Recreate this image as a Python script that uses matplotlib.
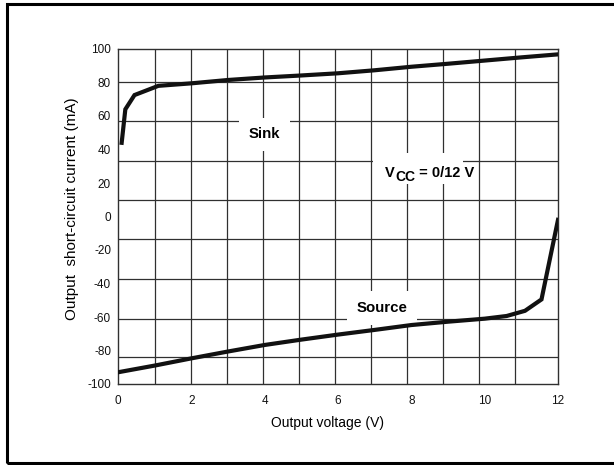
#!/usr/bin/env python3
# output short-circuit current vs output voltage, sink and source curves
import numpy as np
import matplotlib
matplotlib.use('Agg')
import matplotlib.pyplot as plt
from matplotlib.patches import Rectangle

plt.rcParams['font.family'] = ['Liberation Sans', 'DejaVu Sans']
plt.rcParams['axes.unicode_minus'] = False

# sink curve (V, mA)
sink_v = [0.1, 0.2, 0.45, 1.1, 2.0, 3.0, 4.0, 5.0, 6.0, 7.0, 8.0, 9.0, 10.0, 11.0, 12.0]
sink_i = [44, 64, 72.5, 78, 79.5, 81.5, 83, 84.2, 85.5, 87.3, 89.4, 91.2, 93.1, 95, 96.8]

# source curve (V, mA)
source_v = [0.0, 1.0, 2.0, 3.0, 4.0, 5.0, 6.0, 7.0, 8.0, 9.0, 10.0, 10.6, 11.1, 11.55, 12.0]
source_i = [-93, -89, -84.7, -80.6, -76.7, -73.5, -70.5, -67.7, -64.8, -62.8, -61, -59.4, -56.3, -49.5, -2]

xticks = [0, 2, 4, 6, 8, 10, 12]
yticks = [-100, -80, -60, -40, -20, 0, 20, 40, 60, 80, 100]
# the printed grid does not sit on the tick labels
xgrid = [1.01, 1.99, 2.97, 3.95, 4.94, 5.92, 6.9, 7.88, 8.86, 9.85, 10.83]
ygrid = [80.3, 57, 33.1, 9.9, -13.4, -37.3, -61.2, -83.9]

fig = plt.figure(figsize=(6.14, 4.65), dpi=100)
fig.patches.append(Rectangle((7/614, 2/465), 1.2, 459/465, transform=fig.transFigure,
                             fill=False, lw=2.2, ec='black'))
ax = fig.add_axes([118/614, 81/465, 440/614, 335/465])

gc = '#303030'
for g in xgrid:
    ax.axvline(g, color=gc, lw=0.9, zorder=1)
for g in ygrid:
    ax.axhline(g, color=gc, lw=0.9, zorder=1)

ax.plot(sink_v, sink_i, color='#111111', lw=3.0, solid_joinstyle='miter', zorder=3)
ax.plot(source_v, source_i, color='#111111', lw=3.0, solid_joinstyle='miter', zorder=3)

box = dict(facecolor='white', edgecolor='none', pad=7)
ax.text(4.0, 49, 'Sink', fontsize=10.8, fontweight='bold', ha='center', va='center', bbox=box, zorder=2)
ax.text(7.2, -54.5, 'Source', fontsize=10.8, fontweight='bold', ha='center', va='center', bbox=box, zorder=2)

# V_CC label, subscript nearly full size as in the print
ax.add_patch(Rectangle((6.95, 19.5), 2.45, 18.5, fc='white', ec='none', zorder=1.5))
t1 = ax.text(7.28, 22.0, 'V', fontsize=10.5, fontweight='bold', ha='left', va='bottom', zorder=2)
t2 = ax.annotate('CC', xy=(1, 0), xycoords=t1, xytext=(0.3, -3.3), textcoords='offset points',
                 fontsize=10, fontweight='bold', ha='left', va='bottom', zorder=2)
ax.annotate(' = 0/12 V', xy=(1, 0), xycoords=(t2, t1), xytext=(0, 0), textcoords='offset points',
            fontsize=10.5, fontweight='bold', ha='left', va='bottom', zorder=2)

ax.set_xlim(0, 12)
ax.set_ylim(-100, 100)
ax.set_xticks(xticks)
ax.set_yticks(yticks)
ax.tick_params(length=0, labelsize=8.5, colors='#111111')
ax.tick_params(axis='x', pad=8)
ax.tick_params(axis='y', pad=5)
for s in ax.spines.values():
    s.set_color(gc)
    s.set_linewidth(1.0)

ax.set_xlabel('Output voltage (V)', fontsize=10)
ax.xaxis.set_label_coords(0.476, -0.097)
ax.set_ylabel('Output  short-circuit current (mA)', fontsize=11)
ax.yaxis.set_label_coords(-0.088, 0.522)

fig.savefig('out.png', dpi=100)
